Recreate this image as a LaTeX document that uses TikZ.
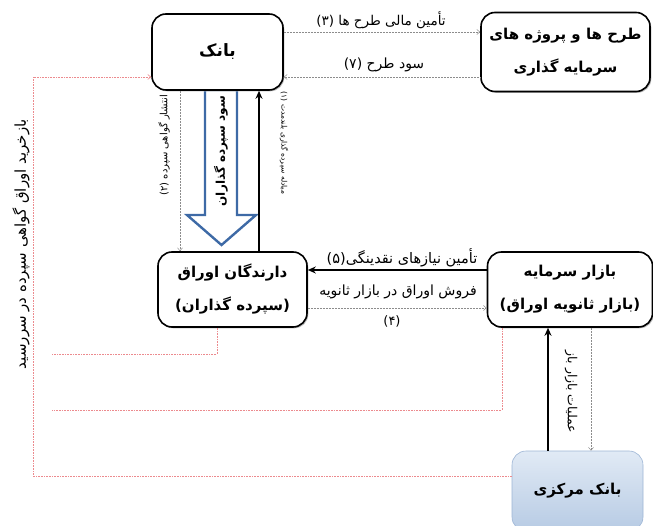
\documentclass[tikz,border=0pt]{standalone}
\usepackage{fontspec}
\setmainfont{DejaVu Sans}
\newfontfamily\fa[Script=Arabic]{DejaVu Sans}
\TeXXeTstate=1
\usetikzlibrary{arrows.meta,shadows}
\newcommand{\fatext}[1]{{\fa\beginR #1\endR}}
\definecolor{mzTop}{HTML}{E1EAF5}
\definecolor{mzBot}{HTML}{B7CBE4}
\definecolor{mzLine}{HTML}{9DB5D5}
\definecolor{arrBlue}{HTML}{3E6AA6}
\definecolor{redLine}{HTML}{EC8A8E}
\definecolor{grayLine}{HTML}{8C8C8C}
\begin{document}
\begin{tikzpicture}[x=1pt,y=-1pt,
  box/.style={draw=black, line width=1.6pt, rounded corners=14pt, fill=white,
    align=center, inner sep=0pt, font=\bfseries\fontsize{15}{33}\selectfont,
    general shadow={fill=gray!55, shadow xshift=1.3pt, shadow yshift=-1.3pt}},
  mbox/.style={draw=mzLine, line width=0.6pt, rounded corners=14pt,
    top color=mzTop, bottom color=mzBot, align=center, inner sep=0pt,
    font=\bfseries\fontsize{15}{33}\selectfont},
  lab/.style={inner sep=1pt},
  garrow/.style={draw=grayLine, line width=0.5pt, densely dotted, -{Straight Barb[length=3pt,width=5pt]}},
  thickarr/.style={draw=black, line width=1.8pt, -{Stealth[length=8pt,width=7pt]}},
  rline/.style={draw=redLine, line width=0.6pt, densely dotted}]
\useasboundingbox (0,0) rectangle (653,526);

% big hollow arrow
\draw[draw=arrBlue, line width=2.4pt, fill=white, line join=miter]
  (205,90) -- (205,215) -- (187,215) -- (221.5,245) -- (256,215) -- (237,215) -- (237,90) -- cycle;

\node[box, minimum width=131pt, minimum height=76pt, font=\bfseries\fontsize{17}{33}\selectfont] (bank) at (217.5,52) {\fatext{بانک}};
\node[box, minimum width=169pt, minimum height=79pt] (tarh) at (565.5,52) {\fatext{طرح ها و پروژه های}\\\fatext{سرمایه گذاری}};
\node[box, minimum width=149pt, minimum height=75pt] (daran) at (232.5,289.5) {\fatext{دارندگان اوراق}\\(\fatext{سپرده گذاران})};
\node[box, minimum width=165pt, minimum height=75pt] (bazar) at (570,289.5) {\fatext{بازار سرمایه}\\(\fatext{بازار ثانویه اوراق})};
\node[mbox, minimum width=131pt, minimum height=80pt] (markazi) at (577.5,491) {\fatext{بانک مرکزی}};

\coordinate (lc) at (33,77);
\coordinate (ra) at (52,354);
\coordinate (rb) at (52,410);

% connectors
\draw[garrow] ([yshift=20pt]bank.east) -- ([yshift=20pt]tarh.west);
\draw[garrow] ([yshift=-25pt]tarh.west) -- ([yshift=-25pt]bank.east);
\draw[garrow] ([xshift=-37.5pt]bank.south) -- ([xshift=-52.5pt]daran.north);
\draw[thickarr] ([xshift=26.5pt]daran.north) -- ([xshift=41.5pt]bank.south);
\draw[thickarr] ([yshift=19.5pt]bazar.west) -- ([yshift=19.5pt]daran.east);
\draw[garrow] ([yshift=-18.5pt]daran.east) -- ([yshift=-18.5pt]bazar.west);
\draw[thickarr] ([xshift=-29.5pt]markazi.north) -- ([xshift=-22pt]bazar.south);
\draw[garrow] ([xshift=21pt]bazar.south) -- ([xshift=13.5pt]markazi.north);
\draw[rline, -{Straight Barb[length=3pt,width=5pt]}] ([yshift=15pt]markazi.west) -| (lc) -- ([yshift=-25pt]bank.west);
\draw[rline] ([xshift=-15.5pt]daran.south) |- (ra);
\draw[rline] ([xshift=-68pt]bazar.south) |- (rb);

% labels
\node[lab, font=\fontsize{13.5}{15}\selectfont] (l3) at (381,20) {\fatext{تأمین مالی طرح ها \beginL(۳)\endL}};
\node[lab, font=\fontsize{14}{15}\selectfont] (l7) at (384,65) {\fatext{سود طرح \beginL(۷)\endL}};
\node[lab, font=\fontsize{14.5}{15}\selectfont] (l5) at (402,258) {\fatext{تأمین نیازهای نقدینگی\beginL(۵)\endL}};
\node[lab, font=\fontsize{14}{15}\selectfont] (l4a) at (398,292) {\fatext{فروش اوراق در بازار ثانویه}};
\node[lab, font=\fontsize{13}{15}\selectfont] (l4b) at (392,321) {\fatext{\beginL(۴)\endL}};
\node[lab, rotate=90, font=\fontsize{10}{12}\selectfont] (l2) at (164,145) {\fatext{انتشار گواهی سپرده \beginL(۲)\endL}};
\node[lab, rotate=-90, font=\fontsize{7.5}{9}\selectfont] (l1) at (284,143) {\fatext{مبادله سپرده گذاری بلندمدت \beginL(۱)\endL}};
\node[lab, rotate=-90, font=\fontsize{12.5}{14}\selectfont] (lo) at (571,392) {\fatext{عملیات بازار باز}};
\node[lab, rotate=90, font=\fontsize{15}{17}\selectfont] (lb) at (21,244) {\fatext{بازخرید اوراق گواهی سپرده در سررسید}};
\node[rotate=90, inner sep=0pt, font=\bfseries\fontsize{12}{14}\selectfont] (sood) at (221,151) {\fatext{سود سپرده گذاران}};
\end{tikzpicture}
\end{document}
